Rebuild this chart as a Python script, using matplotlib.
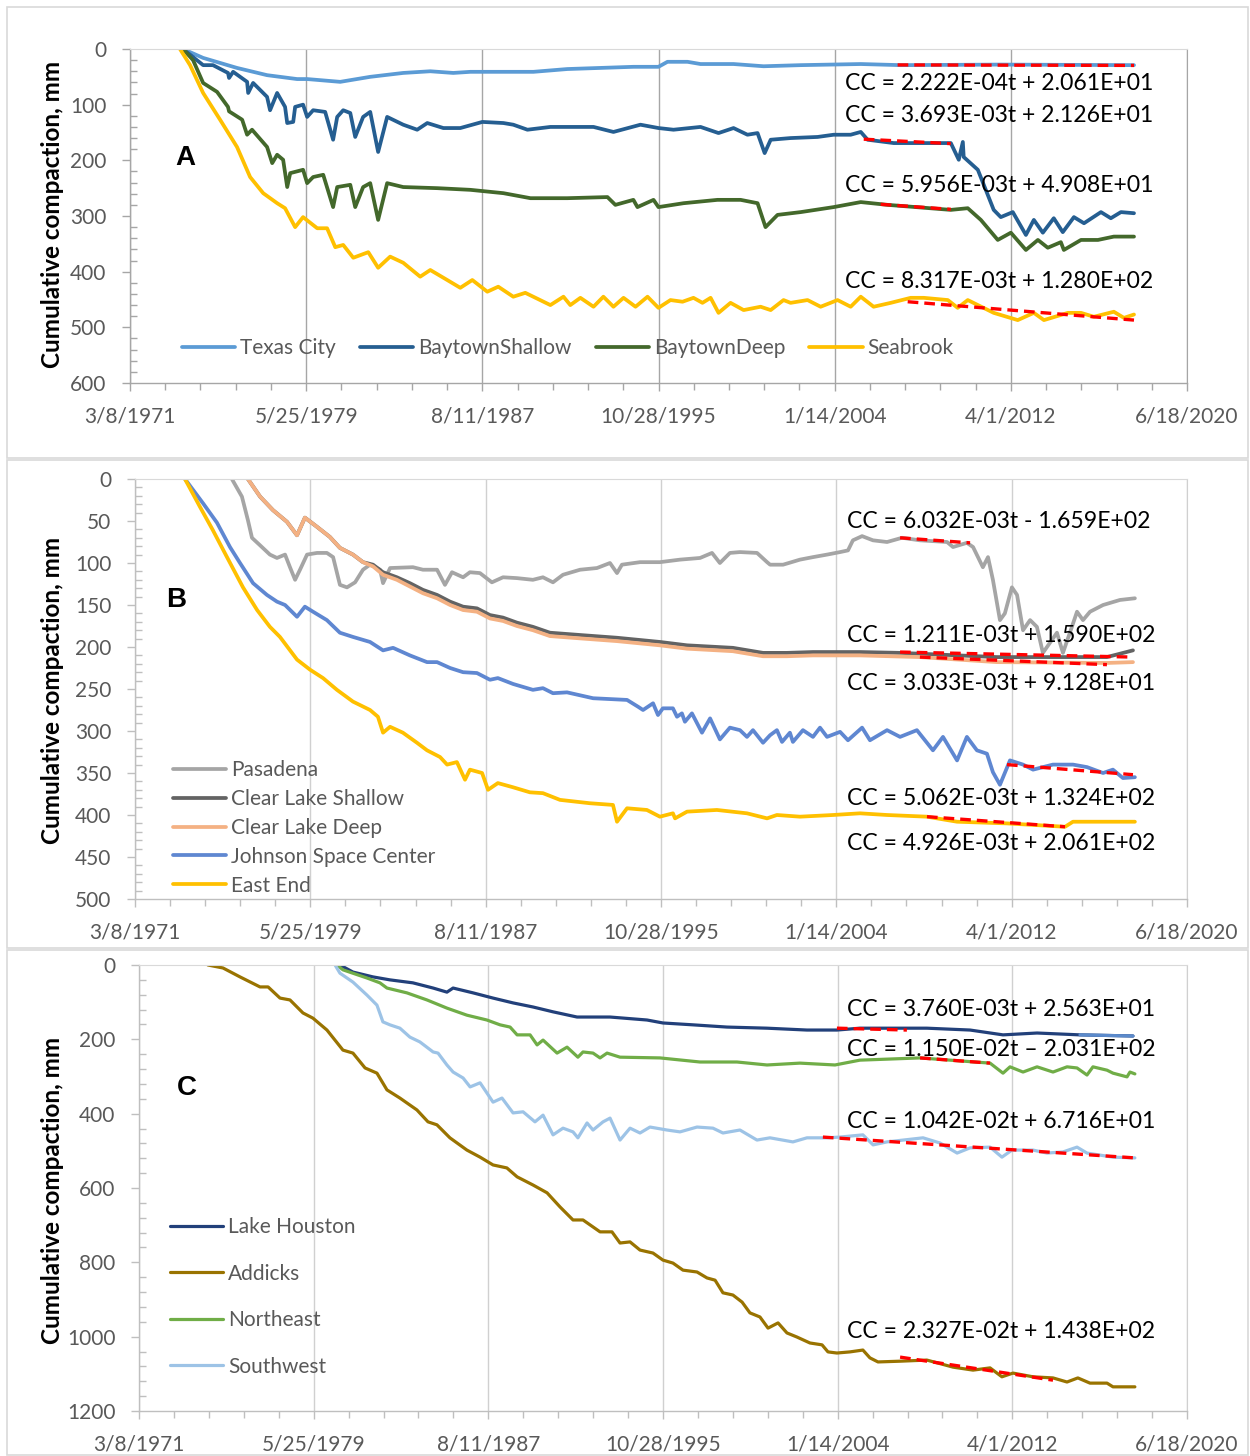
import matplotlib
matplotlib.use('Agg')
import matplotlib.pyplot as plt
import matplotlib.dates as mdates
from matplotlib.ticker import FixedLocator, MultipleLocator
from matplotlib.patches import Rectangle
from datetime import datetime

# ---------------- DATA (decimal years, cumulative compaction in mm) ----------------
xtick_labels = ["3/8/1971", "5/25/1979", "8/11/1987", "10/28/1995", "1/14/2004", "4/1/2012", "6/18/2020"]

# Panel A
texas_city_t = [1973.65, 1974.59, 1976.17, 1977.57, 1978.97, 1979.44, 1980.98, 1982.38, 1983.92, 1985.18, 1986.25,
                1987.05, 1988.59, 1989.99, 1991.57, 1993.11, 1994.65, 1995.82, 1996.24, 1997.17, 1997.78, 1999.32,
                2000.72, 2002.45, 2005.25, 2007.11, 2011.78, 2017.99]
texas_city_v = [0, 16, 34, 47, 54, 54, 59, 50, 43, 40, 43, 41, 41, 41, 36, 34, 32, 32, 23, 23, 27, 27, 31, 29, 27, 29, 28, 29]

baytown_shallow_t = [1973.65, 1974.59, 1975.05, 1975.75, 1975.80, 1975.99, 1976.64, 1976.69, 1976.92, 1977.57, 1977.71,
                     1978.04, 1978.41, 1978.51, 1978.79, 1978.88, 1979.25, 1979.44, 1979.72, 1980.28, 1980.65, 1980.84,
                     1981.12, 1981.45, 1981.68, 1982.05, 1982.38, 1982.75, 1983.17, 1983.92, 1984.57, 1985.04, 1985.79,
                     1986.58, 1987.61, 1988.59, 1989.05, 1989.71, 1990.78, 1992.79, 1993.72, 1994.98, 1995.82, 1996.52,
                     1997.78, 1998.62, 1999.32, 1999.97, 2000.44, 2000.77, 2001.05, 2001.98, 2003.24, 2003.99, 2004.78,
                     2005.25, 2005.57, 2006.79, 2009.45, 2009.82, 2010.01, 2010.05, 2010.71, 2011.45, 2011.78, 2012.34,
                     2012.95, 2013.32, 2013.74, 2014.25, 2014.67, 2015.19, 2015.66, 2016.45, 2016.91, 2017.38, 2017.99]
baytown_shallow_v = [0, 29, 29, 43, 52, 41, 59, 79, 61, 86, 110, 79, 104, 133, 131, 104, 100, 122, 110, 113, 163, 122,
                     110, 115, 158, 122, 113, 185, 122, 136, 145, 133, 142, 142, 131, 133, 136, 145, 140, 140, 149, 136,
                     142, 145, 140, 151, 142, 154, 151, 187, 163, 160, 158, 154, 154, 149, 163, 169, 169, 199, 167, 194,
                     217, 289, 302, 293, 334, 307, 330, 304, 329, 302, 313, 293, 304, 293, 295]

baytown_deep_t = [1973.65, 1974.12, 1974.59, 1975.24, 1975.75, 1975.80, 1976.41, 1976.64, 1976.87, 1977.57, 1977.81,
                  1978.04, 1978.32, 1978.51, 1978.65, 1979.25, 1979.44, 1979.72, 1980.19, 1980.65, 1980.84, 1981.45,
                  1981.68, 1982.05, 1982.38, 1982.75, 1983.17, 1983.92, 1985.51, 1987.05, 1988.59, 1989.85, 1991.57,
                  1993.44, 1993.81, 1994.65, 1994.84, 1995.59, 1995.82, 1996.99, 1998.57, 1999.65, 2000.44, 2000.81,
                  2001.37, 2002.45, 2003.99, 2005.25, 2006.51, 2009.45, 2010.24, 2010.85, 2011.64, 2012.25, 2012.95,
                  2013.51, 2013.97, 2014.58, 2014.72, 2015.52, 2016.31, 2017.05, 2017.99]
baytown_deep_v = [0, 20, 61, 77, 104, 112, 127, 154, 145, 176, 205, 190, 199, 248, 223, 217, 241, 230, 226, 284, 248,
                  244, 284, 248, 241, 307, 241, 248, 250, 253, 259, 268, 268, 266, 280, 271, 284, 271, 284, 277, 271,
                  271, 277, 320, 298, 293, 284, 275, 280, 289, 286, 307, 343, 330, 361, 343, 357, 347, 361, 343, 343,
                  337, 337]

seabrook_t = [1973.51, 1973.98, 1974.59, 1975.38, 1976.17, 1976.78, 1977.39, 1978.04, 1978.41, 1978.88, 1979.25,
              1979.91, 1980.37, 1980.75, 1981.12, 1981.59, 1982.29, 1982.75, 1983.31, 1983.92, 1984.71, 1985.18,
              1985.97, 1986.58, 1987.14, 1987.84, 1988.35, 1989.05, 1989.61, 1990.78, 1991.39, 1991.71, 1992.18,
              1992.79, 1993.25, 1993.72, 1994.19, 1994.75, 1995.31, 1995.82, 1996.38, 1996.94, 1997.45, 1997.87,
              1998.25, 1998.62, 1999.18, 1999.79, 2000.58, 2001.05, 2001.65, 2001.98, 2002.77, 2003.38, 2004.17,
              2004.78, 2005.25, 2005.85, 2006.65, 2007.58, 2008.19, 2009.31, 2009.77, 2010.24, 2011.45, 2012.57,
              2013.32, 2013.79, 2014.91, 2015.52, 2016.12, 2017.05, 2017.52, 2017.99]
seabrook_v = [0, 29, 79, 127, 176, 230, 259, 277, 286, 320, 302, 322, 322, 356, 352, 375, 365, 393, 373, 384, 409, 397,
              415, 429, 415, 436, 427, 445, 438, 460, 445, 460, 447, 463, 445, 463, 447, 463, 445, 465, 451, 454, 447,
              456, 447, 474, 456, 469, 463, 469, 451, 456, 451, 463, 451, 463, 445, 463, 456, 447, 447, 451, 465, 451,
              474, 487, 474, 487, 474, 474, 481, 472, 483, 477]

# Panel B
pasadena_t = [1975.72, 1976.19, 1976.47, 1976.66, 1977.04, 1977.50, 1977.83, 1978.21, 1978.44, 1978.68, 1978.91,
              1979.24, 1979.71, 1980.17, 1980.46, 1980.78, 1981.11, 1981.49, 1981.86, 1982.19, 1982.66, 1982.80,
              1983.13, 1984.20, 1984.67, 1985.33, 1985.70, 1986.03, 1986.55, 1986.87, 1987.34, 1987.90, 1988.42,
              1989.07, 1989.82, 1990.29, 1990.76, 1991.23, 1992.03, 1992.82, 1993.43, 1993.76, 1993.99, 1994.84,
              1995.77, 1996.71, 1997.65, 1998.21, 1998.58, 1999.05, 1999.52, 2000.32, 2000.79, 2000.93, 2001.54,
              2002.33, 2002.94, 2003.60, 2004.21, 2004.58, 2004.81, 2005.24, 2005.75, 2006.41, 2007.11, 2007.95,
              2009.22, 2009.50, 2010.15, 2010.44, 2010.90, 2011.14, 2011.37, 2011.70, 2011.93, 2012.26, 2012.50,
              2012.78, 2013.11, 2013.43, 2013.71, 2014.04, 2014.37, 2014.65, 2015.07, 2015.31, 2015.59, 2015.92,
              2016.53, 2017.32, 2018.02]
pasadena_v = [0, 21, 49, 70, 79, 90, 94, 90, 105, 120, 108, 90, 88, 88, 93, 126, 129, 123, 108, 102, 108, 124, 106,
              105, 108, 108, 126, 111, 117, 111, 112, 123, 117, 118, 120, 117, 123, 114, 108, 106, 100, 112, 102, 99,
              99, 96, 94, 88, 100, 88, 87, 88, 99, 102, 102, 96, 93, 90, 87, 85, 73, 68, 73, 75, 70, 73, 75, 81, 76,
              81, 105, 93, 120, 168, 160, 129, 138, 180, 168, 176, 207, 195, 183, 207, 176, 158, 168, 158, 150, 144,
              142]

cl_shallow_t = [1976.47, 1977.04, 1977.64, 1978.30, 1978.77, 1979.14, 1979.71, 1980.31, 1980.78, 1981.39, 1981.86,
                1982.33, 1982.80, 1983.45, 1984.06, 1984.67, 1985.33, 1985.94, 1986.55, 1987.20, 1987.81, 1988.42,
                1989.07, 1989.82, 1990.62, 1992.17, 1993.76, 1995.77, 1997.04, 1999.19, 2000.60, 2001.72, 2002.94,
                2005.14, 2007.02, 2011.56, 2016.71, 2017.93]
cl_shallow_v = [0, 21, 37, 51, 67, 46, 57, 69, 82, 90, 99, 102, 111, 117, 124, 132, 138, 146, 152, 154, 162, 165, 171,
                176, 183, 186, 189, 194, 198, 201, 207, 207, 206, 206, 207, 212, 212, 204]

cl_deep_t = [1976.47, 1977.04, 1977.64, 1978.30, 1978.77, 1979.14, 1979.71, 1980.31, 1980.78, 1981.39, 1981.86,
             1982.33, 1982.80, 1983.45, 1984.06, 1984.67, 1985.33, 1985.94, 1986.55, 1987.20, 1987.81, 1988.42,
             1989.07, 1989.82, 1990.62, 1992.17, 1993.76, 1995.77, 1997.04, 1999.19, 2000.60, 2001.72, 2002.94,
             2005.14, 2007.95, 2011.56, 2016.71, 2017.93]
cl_deep_v = [0, 21, 37, 51, 67, 46, 57, 69, 82, 90, 99, 104, 114, 120, 128, 136, 142, 150, 156, 158, 166, 169, 175,
             180, 187, 190, 193, 198, 202, 205, 211, 211, 210, 210, 212, 218, 219, 218]

jsc_t = [1973.52, 1974.37, 1975.02, 1975.63, 1976.10, 1976.71, 1977.36, 1977.83, 1978.21, 1978.77, 1979.14, 1979.52,
         1980.17, 1980.78, 1981.39, 1982.19, 1982.80, 1983.27, 1984.06, 1984.86, 1985.33, 1985.94, 1986.55, 1987.20,
         1987.81, 1988.18, 1988.89, 1989.82, 1990.29, 1990.76, 1991.42, 1992.64, 1994.23, 1994.74, 1994.98, 1995.45,
         1995.68, 1995.91, 1996.38, 1996.57, 1996.80, 1996.94, 1997.27, 1997.74, 1998.12, 1998.58, 1999.05, 1999.52,
         1999.85, 2000.13, 2000.60, 2000.93, 2001.25, 2001.49, 2001.86, 2002.00, 2002.47, 2002.94, 2003.27, 2003.60,
         2004.21, 2004.58, 2005.24, 2005.61, 2006.41, 2007.02, 2007.81, 2008.56, 2009.03, 2009.69, 2010.15, 2010.62,
         2011.09, 2011.37, 2011.70, 2012.17, 2012.78, 2013.25, 2014.18, 2015.12, 2015.78, 2016.53, 2016.99, 2017.46,
         2018.02]
jsc_v = [0, 29, 52, 81, 100, 124, 138, 146, 150, 164, 152, 158, 168, 183, 188, 194, 204, 201, 210, 218, 218, 225, 230,
         231, 239, 237, 244, 251, 249, 255, 254, 261, 263, 271, 275, 267, 281, 273, 273, 283, 279, 289, 279, 302, 285,
         310, 296, 299, 307, 299, 314, 305, 299, 313, 302, 313, 299, 307, 296, 307, 301, 311, 296, 311, 299, 307, 299,
         323, 307, 335, 307, 323, 327, 349, 364, 335, 340, 346, 340, 340, 343, 350, 346, 356, 355]

east_end_t = [1973.52, 1974.22, 1974.83, 1975.49, 1976.24, 1976.90, 1977.50, 1977.97, 1978.77, 1979.38, 1979.99,
              1980.64, 1981.39, 1982.19, 1982.56, 1982.80, 1983.13, 1983.73, 1984.39, 1984.86, 1985.47, 1985.80,
              1986.26, 1986.64, 1986.87, 1987.44, 1987.72, 1988.18, 1988.89, 1989.68, 1990.29, 1991.09, 1992.49,
              1993.57, 1993.76, 1994.23, 1995.16, 1995.77, 1996.38, 1996.48, 1997.04, 1998.44, 1999.85, 2000.79,
              2001.25, 2002.33, 2003.88, 2005.14, 2006.41, 2008.28, 2009.69, 2012.03, 2014.75, 2015.12, 2016.53,
              2018.02]
east_end_v = [0, 33, 61, 93, 129, 156, 176, 188, 215, 227, 237, 251, 265, 275, 283, 302, 295, 302, 314, 323, 331, 340,
              337, 358, 346, 350, 370, 362, 367, 373, 374, 382, 386, 388, 408, 392, 394, 402, 398, 404, 396, 394, 398,
              404, 400, 402, 400, 398, 400, 402, 408, 410, 414, 408, 408, 408]

# Panel C
lake_houston_t = [1980.63, 1981.24, 1982.18, 1982.98, 1984.06, 1985.01, 1985.66, 1985.95, 1986.89, 1987.83, 1988.77,
                  1989.71, 1990.65, 1991.78, 1993.33, 1995.07, 1995.82, 1997.23, 1998.83, 2000.71, 2002.59, 2004.00,
                  2005.08, 2008.23, 2010.26, 2011.81, 2013.41, 2015.43, 2017.92]
lake_houston_v = [0, 19, 32, 40, 48, 62, 73, 62, 75, 89, 102, 113, 126, 140, 140, 148, 156, 161, 167, 170, 175, 175,
                  170, 170, 175, 188, 183, 188, 191]

addicks_t = [1974.42, 1975.13, 1975.93, 1976.87, 1977.25, 1977.81, 1978.28, 1978.89, 1979.36, 1980.02, 1980.77,
             1981.24, 1981.81, 1982.37, 1982.84, 1983.45, 1984.25, 1984.77, 1985.19, 1985.80, 1986.60, 1987.22,
             1987.83, 1988.48, 1988.96, 1989.71, 1990.37, 1990.98, 1991.59, 1992.06, 1992.86, 1993.42, 1993.80,
             1994.27, 1994.74, 1995.35, 1995.82, 1996.29, 1996.76, 1997.42, 1997.89, 1998.27, 1998.64, 1999.11,
             1999.54, 1999.91, 2000.38, 2000.76, 2001.23, 2001.65, 2002.12, 2002.73, 2003.30, 2003.58, 2004.00,
             2004.61, 2005.22, 2005.55, 2005.93, 2006.97, 2008.23, 2009.46, 2010.40, 2011.20, 2011.76, 2012.28,
             2013.22, 2014.16, 2014.82, 2015.33, 2015.90, 2016.70, 2016.98, 2018.01]
addicks_v = [0, 8, 32, 59, 59, 89, 94, 129, 143, 175, 229, 237, 277, 291, 336, 358, 390, 422, 430, 465, 498, 517, 538,
             546, 570, 592, 613, 651, 686, 686, 718, 718, 748, 745, 767, 775, 794, 802, 821, 826, 842, 848, 882, 888,
             907, 936, 947, 977, 963, 990, 1001, 1017, 1022, 1041, 1044, 1041, 1036, 1057, 1068, 1066, 1063, 1082,
             1090, 1084, 1108, 1098, 1108, 1111, 1122, 1111, 1125, 1125, 1135, 1135]

northeast_t = [1980.49, 1980.77, 1981.90, 1982.51, 1982.84, 1983.78, 1984.72, 1985.66, 1986.60, 1987.54, 1988.16,
               1988.63, 1988.96, 1989.57, 1989.90, 1990.18, 1990.84, 1991.31, 1991.82, 1992.06, 1992.53, 1992.86,
               1993.19, 1993.80, 1995.68, 1997.56, 1999.30, 2000.71, 2002.26, 2003.91, 2005.08, 2007.91, 2011.20,
               2011.81, 2012.14, 2012.75, 2013.41, 2014.16, 2014.82, 2015.29, 2015.76, 2016.04, 2016.70, 2016.98,
               2017.64, 2017.78, 2018.01]
northeast_v = [0, 13, 35, 48, 62, 75, 94, 116, 135, 148, 161, 167, 188, 188, 215, 202, 237, 221, 248, 234, 237, 250,
               237, 248, 250, 261, 261, 269, 264, 269, 256, 250, 264, 291, 274, 288, 274, 288, 274, 277, 296, 274, 283,
               291, 301, 288, 293]

southwest_t = [1980.40, 1980.63, 1981.24, 1981.90, 1982.37, 1982.65, 1982.98, 1983.45, 1983.92, 1984.39, 1985.01,
               1985.24, 1985.66, 1985.95, 1986.42, 1986.75, 1987.22, 1987.83, 1988.25, 1988.77, 1989.24, 1989.80,
               1990.18, 1990.65, 1991.12, 1991.59, 1991.82, 1992.25, 1992.53, 1993.00, 1993.33, 1993.80, 1994.27,
               1994.74, 1995.21, 1996.01, 1996.62, 1997.42, 1998.17, 1998.64, 1999.44, 2000.24, 2000.85, 2001.93,
               2002.59, 2003.53, 2004.14, 2005.22, 2005.70, 2006.35, 2008.05, 2008.85, 2009.65, 2010.26, 2011.20,
               2011.76, 2012.23, 2013.22, 2013.88, 2014.63, 2015.29, 2015.76, 2016.98, 2018.01]
southwest_v = [0, 22, 46, 81, 108, 153, 161, 170, 194, 207, 234, 237, 269, 288, 304, 328, 317, 369, 358, 398, 395, 422,
               404, 457, 439, 449, 465, 425, 444, 422, 412, 471, 439, 452, 436, 444, 449, 436, 439, 452, 444, 471, 465,
               476, 465, 465, 463, 457, 484, 476, 465, 479, 506, 492, 490, 517, 498, 498, 506, 503, 490, 506, 517, 519]

# Linear-trend segments (start/end year, start/end value)
trend_a_t = [[2006.97, 2017.99], [2005.39, 2009.45], [2006.18, 2009.45], [2007.44, 2017.99]]
trend_a_v = [[28.6, 29.5], [162, 170], [279, 288], [454, 487]]
trend_b_t = [[2007.02, 2010.30], [2007.02, 2017.93], [2007.95, 2016.71], [2012.03, 2017.93], [2008.28, 2014.75]]
trend_b_v = [[70, 76], [206, 212], [212, 221], [340, 352], [402, 414]]
trend_c_t = [[2004.00, 2007.29], [2007.91, 2011.20], [2003.34, 2018.01], [2006.97, 2014.16]]
trend_c_v = [[170, 175], [250, 264], [463, 519], [1055, 1117]]

eq_a = ["CC = 2.222E-04t + 2.061E+01", "CC = 3.693E-03t + 2.126E+01",
        "CC = 5.956E-03t + 4.908E+01", "CC = 8.317E-03t + 1.280E+02"]
eq_b = ["CC = 6.032E-03t - 1.659E+02", "CC = 1.211E-03t + 1.590E+02", "CC = 3.033E-03t + 9.128E+01",
        "CC = 5.062E-03t + 1.324E+02", "CC = 4.926E-03t + 2.061E+02"]
eq_c = ["CC = 3.760E-03t + 2.563E+01", "CC = 1.150E-02t \u2013 2.031E+02",
        "CC = 1.042E-02t + 6.716E+01", "CC = 2.327E-02t + 1.438E+02"]

# ---------------- STYLE / LAYOUT ----------------
W, H = 1250, 1456
FONT = 'Lato'
TICK_COL = '#595959'
plt.rcParams['font.family'] = [FONT, 'DejaVu Sans']
plt.rcParams['lines.solid_joinstyle'] = 'round'
plt.rcParams['lines.solid_capstyle'] = 'round'

def yr(y):
    yi = int(y)
    a = datetime(yi, 1, 1)
    b = datetime(yi + 1, 1, 1)
    return mdates.date2num(a + (b - a) * (y - yi))

def conv(ts):
    return [yr(t) for t in ts]

X0 = mdates.date2num(datetime(1971, 3, 8))

fig = plt.figure(figsize=(W / 100, H / 100), dpi=100)

def fx(x):
    return x / W

def fy(y):
    return 1 - y / H

# panel frames
for (y0, y1) in [(7, 458), (460, 948), (950, 1455)]:
    fig.patches.append(Rectangle((fx(7), fy(y1)), fx(1248 - 7), (y1 - y0) / H, transform=fig.transFigure,
                                 fill=False, edgecolor='#D9D9D9', linewidth=1.2))

def make_axes(left, right, top, bottom, ymax, ymajor, yminor, gridcol, spinecol):
    ax = fig.add_axes([fx(left), fy(bottom), (right - left) / W, (bottom - top) / H])
    ax.set_xlim(X0, X0 + 18000)
    ax.set_ylim(ymax, 0)
    ax.xaxis.set_major_locator(FixedLocator([X0 + 3000 * k for k in range(7)]))
    ax.xaxis.set_minor_locator(FixedLocator([X0 + 600 * k for k in range(31)]))
    ax.set_xticklabels(xtick_labels)
    ax.yaxis.set_major_locator(MultipleLocator(ymajor))
    ax.yaxis.set_minor_locator(MultipleLocator(yminor))
    ax.tick_params(axis='both', which='major', labelsize=15, labelcolor=TICK_COL, color=spinecol, width=1.0)
    ax.tick_params(axis='x', which='major', direction='out', length=6, pad=11)
    ax.tick_params(axis='x', which='minor', direction='out', length=5, color=spinecol, width=1.0)
    ax.tick_params(axis='y', which='major', direction='out', length=6, pad=11)
    ax.tick_params(axis='y', which='minor', direction='in', length=5, color=spinecol, width=1.0)
    ax.grid(axis='x', which='major', color=gridcol, linewidth=1.0)
    for s in ['left', 'bottom']:
        ax.spines[s].set_color(spinecol)
        ax.spines[s].set_linewidth(1.0)
    ax.spines['top'].set_color('#D9D9D9')
    ax.spines['right'].set_color(gridcol)
    ax.set_facecolor('none')
    return ax

def trends(ax, tt, vv, lw):
    for t, v in zip(tt, vv):
        ax.plot(conv(t), v, color='#FF0000', linewidth=lw, dashes=(3.2, 1.8), zorder=5,
                dash_capstyle='butt')

def eqs(texts, ys, x=845, size=16.6):
    for s, y in zip(texts, ys):
        fig.text(fx(x), fy(y), s, fontsize=size, color='black', ha='left', va='center', family=[FONT, 'DejaVu Sans'])

def ylabel(yc):
    fig.text(fx(53), fy(yc), 'Cumulative compaction, mm', rotation=90, fontsize=17.5, fontweight='bold',
             ha='center', va='center', color='black')

def letter(ax_x, ax_y, s):
    fig.text(fx(ax_x), fy(ax_y), s, fontsize=20, fontweight='bold', ha='center', va='center', color='black',
             family=['Liberation Sans', 'DejaVu Sans'])

LW = 2.7
LWC = 2.3

# ---------------- Panel A ----------------
axA = make_axes(130, 1187, 49, 383, 600, 100, 20, '#A6A6A6', '#A6A6A6')
axA.plot(conv(texas_city_t), texas_city_v, color='#5B9BD5', lw=LW, label='Texas City')
axA.plot(conv(baytown_shallow_t), baytown_shallow_v, color='#255E91', lw=LW, label='BaytownShallow')
axA.plot(conv(baytown_deep_t), baytown_deep_v, color='#43682B', lw=LW, label='BaytownDeep')
axA.plot(conv(seabrook_t), seabrook_v, color='#FFC000', lw=LW, label='Seabrook')
trends(axA, trend_a_t, trend_a_v, 2.4)
axA.legend(loc='center left', bbox_to_anchor=((182 - 130) / 1057, (383 - 348) / 334), ncol=4, frameon=False,
           fontsize=15, handlelength=2.55, handletextpad=0.25, columnspacing=1.15, borderpad=0,
           borderaxespad=0, labelcolor=TICK_COL)
eqs(eq_a, [84, 116, 186, 282])
ylabel(214)
letter(185, 158, 'A')

# ---------------- Panel B ----------------
axB = make_axes(135, 1187, 479, 899, 500, 50, 10, '#D0D0D0', '#BFBFBF')
axB.plot(conv(pasadena_t), pasadena_v, color='#A5A5A5', lw=LW, label='Pasadena')
axB.plot(conv(cl_shallow_t), cl_shallow_v, color='#636363', lw=LW, label='Clear Lake Shallow')
axB.plot(conv(cl_deep_t), cl_deep_v, color='#F4B183', lw=LW, label='Clear Lake Deep')
axB.plot(conv(jsc_t), jsc_v, color='#5F87D1', lw=LW, label='Johnson Space Center')
axB.plot(conv(east_end_t), east_end_v, color='#FFC000', lw=LW, label='East End')
trends(axB, trend_b_t, trend_b_v, 2.4)
axB.legend(loc='center left', bbox_to_anchor=((173 - 135) / 1052, (899 - 828) / 420), ncol=1, frameon=False,
           fontsize=15, handlelength=2.55, handletextpad=0.25, labelspacing=0.42, borderpad=0,
           borderaxespad=0, labelcolor=TICK_COL)
eqs(eq_b, [521, 635, 683, 798, 843], x=847)
ylabel(690)
letter(176, 600, 'B')

# ---------------- Panel C ----------------
axC = make_axes(139, 1187, 965, 1411, 1200, 200, 40, '#D0D0D0', '#BFBFBF')
axC.plot(conv(lake_houston_t), lake_houston_v, color='#22407A', lw=LWC, label='Lake Houston')
# last stretch of the Lake Houston record appears in a lighter blue in the original
axC.plot(conv(lake_houston_t[-2:]), lake_houston_v[-2:], color='#5B8ACB', lw=LWC, zorder=3)
axC.plot(conv(addicks_t), addicks_v, color='#997300', lw=LWC, label='Addicks')
axC.plot(conv(northeast_t), northeast_v, color='#70AD47', lw=LWC, label='Northeast')
axC.plot(conv(southwest_t), southwest_v, color='#9DC3E6', lw=LWC, label='Southwest')
trends(axC, trend_c_t, trend_c_v, 2.4)
handles, labels = axC.get_legend_handles_labels()
axC.legend(handles, labels, loc='center left', bbox_to_anchor=((170 - 139) / 1048, (1411 - 1297) / 446), ncol=1,
           frameon=False, fontsize=15, handlelength=2.55, handletextpad=0.25, labelspacing=1.27, borderpad=0,
           borderaxespad=0, labelcolor=TICK_COL)
eqs(eq_c, [1010, 1050, 1122, 1332], x=847)
ylabel(1190)
letter(187, 1088, 'C')

fig.savefig('out.png', dpi=100)
